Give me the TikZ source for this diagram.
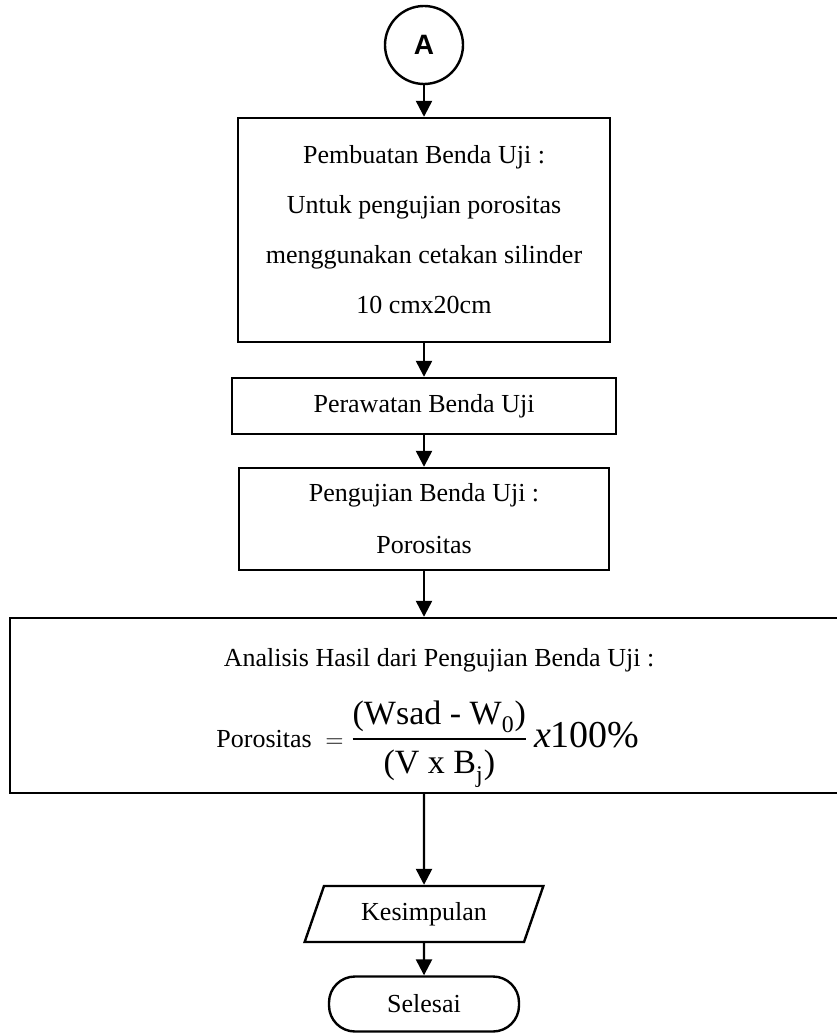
\documentclass[tikz,border=0pt]{standalone}
\usepackage{amsmath}
\usepackage{fontspec}
\setmainfont{Liberation Serif}
\newfontfamily\connfont{Liberation Sans}
\usetikzlibrary{
  arrows.meta,
  calc,
  positioning,
  shapes.geometric
}
\tikzset{
  procbox/.style={draw,line width=1.2pt,align=center},
  flow/.style={-{Triangle[length=8pt,width=8pt]},line width=1.2pt}
}

\begin{document}
\begin{tikzpicture}[x=0.5pt,y=-0.5pt,font=\fontsize{13}{15}\selectfont]
                  \useasboundingbox (0,0) rectangle (836,1036);
                  \node[circle,draw,line width=1.2pt,minimum size=39pt,inner sep=0pt,font=\connfont\bfseries\fontsize{14}{16}\selectfont] (A) at (424,45) {A};
                  \node[procbox,minimum width=186pt,minimum height=112pt] (B) at (424,230) {Pembuatan Benda Uji :\\[10pt] Untuk pengujian porositas\\[10pt] menggunakan cetakan silinder\\[10pt] 10 cmx20cm};
                  \node[procbox,minimum width=192pt,minimum height=28pt] (C) at (424,406) {Perawatan Benda Uji};
                  \node[procbox,minimum width=185pt,minimum height=51pt] (D) at (424,519) {Pengujian Benda Uji :\\[11pt] Porositas};
                  \node[procbox,minimum width=414pt,minimum height=87.5pt] (E) at (424,705.5) {};
                  \node (Etitle) at (439,660) {Analisis Hasil dari Pengujian Benda Uji :};
                  \node (Eform) at (428,744) {Porositas\; $=$ {\fontsize{17}{20}\selectfont $\dfrac{\text{(Wsad - W}_{\text{0}}\text{)}}{\rule{0pt}{15pt}\text{(V x B}_{\text{j}}\text{)}}$\,{\fontsize{19}{22}\selectfont\textit{x}100\%}}};
                  \node[trapezium,trapezium left angle=70,trapezium right angle=110,trapezium stretches=true,draw,line width=1.2pt,minimum width=120pt,minimum height=28pt] (F) at (424,914) {Kesimpulan};
                  \node[draw,line width=1.2pt,rounded corners=13pt,minimum width=95pt,minimum height=27.5pt] (G) at (424,1004) {Selesai};

                  \draw[flow] (A) -- (B);
                  \draw[flow] (B) -- (C);
                  \draw[flow] (C) -- (D);
                  \draw[flow] (D) -- (E);
                  \draw[flow] (E) -- (F);
                  \draw[flow] (F) -- (G);
                \end{tikzpicture}
\end{document}
